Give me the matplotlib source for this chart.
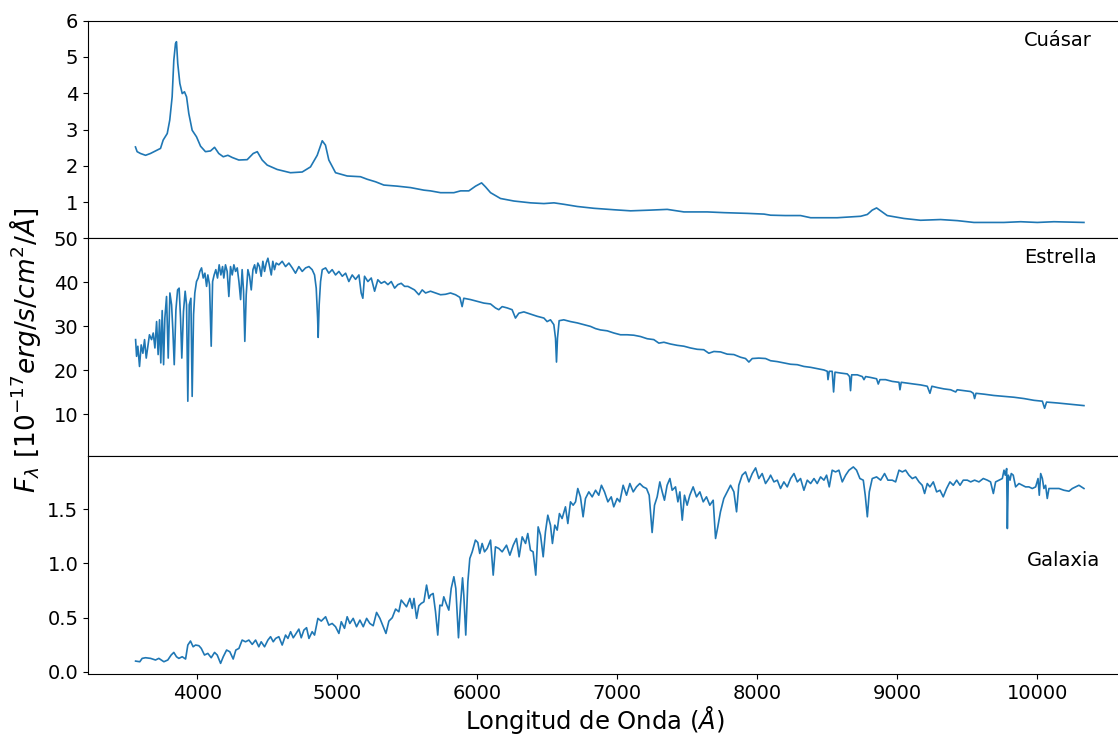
import numpy as np
import matplotlib.pyplot as plt

# Espectros: longitud de onda (A) y flujo (1e-17 erg/s/cm2/A)
wl_quasar = [3559, 3571, 3595, 3631, 3666, 3702, 3738, 3757, 3786, 3804, 3821, 3833,
             3845, 3852, 3861, 3876, 3893, 3909, 3924, 3940, 3964, 3995, 4024, 4059,
             4095, 4124, 4154, 4186, 4219, 4250, 4297, 4357, 4400, 4429, 4464, 4500,
             4571, 4666, 4750, 4809, 4857, 4893, 4916, 4940, 4988, 5071, 5166, 5214,
             5274, 5333, 5429, 5524, 5619, 5666, 5738, 5833, 5881, 5940, 5988, 6031,
             6059, 6095, 6166, 6262, 6381, 6476, 6548, 6619, 6714, 6833, 6976, 7095,
             7238, 7357, 7476, 7643, 7762, 7929, 8048, 8095, 8200, 8309, 8381, 8571,
             8738, 8786, 8821, 8852, 8881, 8928, 9047, 9166, 9309, 9429, 9547, 9761,
             9881, 10000, 10119, 10333]
fl_quasar = [2.52, 2.39, 2.34, 2.29, 2.34, 2.41, 2.48, 2.71, 2.89, 3.26, 3.90, 4.91,
             5.37, 5.42, 4.82, 4.27, 3.99, 4.04, 3.90, 3.44, 2.98, 2.80, 2.54, 2.39,
             2.41, 2.51, 2.34, 2.25, 2.29, 2.23, 2.16, 2.17, 2.34, 2.39, 2.16, 2.02,
             1.90, 1.81, 1.83, 1.97, 2.29, 2.69, 2.57, 2.16, 1.81, 1.72, 1.70, 1.63,
             1.56, 1.47, 1.44, 1.40, 1.33, 1.31, 1.26, 1.26, 1.31, 1.31, 1.44, 1.53,
             1.42, 1.26, 1.10, 1.03, 0.98, 0.96, 0.98, 0.94, 0.88, 0.83, 0.79, 0.76,
             0.78, 0.80, 0.73, 0.73, 0.71, 0.69, 0.67, 0.64, 0.63, 0.63, 0.57, 0.57,
             0.61, 0.66, 0.78, 0.84, 0.76, 0.63, 0.55, 0.50, 0.52, 0.49, 0.44, 0.44,
             0.46, 0.44, 0.46, 0.44]

wl_star = [3560, 3567, 3576, 3588, 3600, 3612, 3624, 3636, 3648, 3659, 3674, 3686,
           3698, 3710, 3721, 3731, 3740, 3750, 3760, 3769, 3781, 3793, 3805, 3817,
           3826, 3836, 3848, 3860, 3871, 3881, 3890, 3902, 3914, 3924, 3933, 3943,
           3955, 3964, 3974, 3983, 3995, 4007, 4019, 4031, 4043, 4055, 4067, 4076,
           4088, 4100, 4110, 4121, 4133, 4145, 4157, 4169, 4181, 4190, 4202, 4214,
           4226, 4238, 4250, 4262, 4274, 4286, 4298, 4310, 4321, 4331, 4340, 4350,
           4362, 4374, 4386, 4398, 4410, 4421, 4433, 4445, 4457, 4469, 4481, 4493,
           4505, 4517, 4529, 4540, 4552, 4564, 4583, 4607, 4631, 4655, 4679, 4702,
           4726, 4750, 4774, 4798, 4821, 4838, 4850, 4860, 4864, 4871, 4881, 4893,
           4917, 4940, 4964, 4988, 5012, 5036, 5060, 5083, 5107, 5131, 5155, 5171,
           5183, 5195, 5219, 5243, 5267, 5290, 5314, 5338, 5362, 5386, 5410, 5433,
           5457, 5481, 5505, 5529, 5552, 5583, 5607, 5631, 5666, 5702, 5738, 5773,
           5809, 5845, 5876, 5892, 5904, 5952, 5999, 6047, 6095, 6130, 6154, 6178,
           6214, 6249, 6273, 6297, 6333, 6380, 6428, 6476, 6499, 6523, 6547, 6559,
           6566, 6573, 6585, 6618, 6666, 6714, 6761, 6809, 6845, 6880, 6928, 6976,
           7023, 7071, 7118, 7166, 7214, 7261, 7297, 7333, 7380, 7428, 7476, 7523,
           7571, 7618, 7654, 7690, 7738, 7785, 7833, 7880, 7916, 7940, 7964, 8011,
           8059, 8095, 8143, 8190, 8238, 8286, 8333, 8381, 8428, 8476, 8500, 8505,
           8514, 8535, 8545, 8555, 8595, 8643, 8659, 8666, 8674, 8714, 8750, 8762,
           8774, 8809, 8852, 8864, 8876, 8916, 8964, 9012, 9019, 9028, 9071, 9119,
           9167, 9214, 9233, 9247, 9286, 9333, 9381, 9417, 9428, 9476, 9524, 9543,
           9552, 9562, 9619, 9690, 9762, 9833, 9905, 9976, 10036, 10052, 10066, 10143,
           10238, 10333]
fl_star = [27.0, 23.2, 25.5, 20.9, 25.8, 23.9, 27.0, 22.8, 25.5, 28.1, 27.0, 28.5,
           25.1, 31.1, 23.6, 31.5, 21.7, 33.6, 21.3, 31.9, 36.8, 22.8, 37.6, 34.9,
           29.2, 21.3, 33.8, 38.3, 38.7, 31.9, 22.8, 33.4, 38.0, 34.9, 13.0, 34.9,
           36.4, 14.1, 32.7, 37.6, 40.2, 41.0, 42.5, 43.3, 41.0, 42.1, 39.1, 41.7,
           39.5, 25.5, 40.2, 41.7, 42.9, 41.0, 44.0, 41.7, 43.6, 41.0, 44.0, 42.5,
           36.8, 43.6, 41.7, 44.0, 42.5, 43.3, 40.2, 36.1, 42.9, 38.0, 26.6, 37.2,
           42.9, 41.4, 38.3, 42.9, 44.0, 42.1, 44.4, 43.6, 41.4, 44.8, 42.5, 44.4,
           45.5, 43.6, 41.7, 44.8, 42.9, 44.4, 44.0, 44.8, 43.6, 44.4, 43.3, 42.1,
           43.6, 42.5, 43.3, 43.6, 42.9, 41.7, 38.7, 31.9, 27.5, 34.9, 40.2, 42.9,
           43.3, 42.1, 42.9, 41.7, 42.5, 41.4, 42.1, 40.2, 41.7, 40.7, 41.7, 37.6,
           36.4, 41.4, 40.2, 41.0, 38.0, 40.6, 39.8, 40.2, 39.5, 40.2, 38.7, 39.5,
           39.8, 39.1, 39.1, 38.7, 38.3, 37.2, 38.3, 37.6, 38.0, 37.6, 37.2, 37.3,
           37.6, 37.2, 36.6, 34.5, 36.4, 36.1, 35.7, 35.3, 35.1, 34.2, 33.8, 34.5,
           34.2, 33.8, 31.9, 33.0, 33.3, 32.8, 32.3, 31.9, 31.1, 31.5, 30.4, 27.3,
           21.9, 27.3, 31.3, 31.5, 31.1, 30.8, 30.4, 30.0, 29.5, 29.2, 29.0, 28.5,
           28.1, 28.1, 28.0, 27.7, 27.2, 27.0, 26.2, 26.4, 26.0, 25.7, 25.5, 25.1,
           24.8, 24.7, 23.9, 24.3, 24.2, 23.7, 23.6, 23.0, 22.7, 21.9, 22.7, 22.8,
           22.7, 22.2, 22.0, 21.7, 21.4, 21.3, 20.9, 20.7, 20.4, 20.1, 19.8, 17.9,
           19.8, 19.8, 15.1, 19.6, 19.4, 19.2, 18.6, 15.4, 19.0, 19.0, 18.6, 17.9,
           18.6, 18.4, 18.1, 16.9, 17.9, 17.9, 17.5, 17.3, 15.6, 17.3, 17.1, 16.9,
           16.7, 16.4, 14.8, 16.4, 16.1, 15.8, 15.6, 15.1, 15.6, 15.4, 15.2, 14.8,
           13.6, 14.8, 14.6, 14.3, 14.1, 13.9, 13.6, 13.2, 13.0, 11.4, 12.8, 12.6,
           12.3, 12.0]

wl_galaxy = [3560, 3590, 3607, 3631, 3667, 3702, 3726, 3762, 3790, 3814, 3833, 3852,
             3869, 3893, 3917, 3933, 3952, 3971, 3988, 4012, 4029, 4052, 4076, 4100,
             4124, 4143, 4167, 4186, 4210, 4233, 4257, 4276, 4298, 4321, 4345, 4369,
             4393, 4417, 4440, 4457, 4481, 4505, 4524, 4543, 4560, 4583, 4607, 4631,
             4648, 4667, 4686, 4702, 4726, 4743, 4762, 4781, 4798, 4821, 4838, 4862,
             4886, 4917, 4940, 4964, 4988, 5012, 5029, 5052, 5071, 5090, 5114, 5138,
             5162, 5186, 5210, 5233, 5257, 5281, 5305, 5324, 5348, 5369, 5393, 5417,
             5440, 5457, 5476, 5495, 5519, 5536, 5548, 5567, 5583, 5600, 5619, 5638,
             5655, 5666, 5685, 5702, 5718, 5733, 5749, 5761, 5778, 5797, 5814, 5833,
             5847, 5866, 5880, 5895, 5904, 5918, 5933, 5947, 5964, 5987, 6004, 6018,
             6035, 6052, 6071, 6095, 6114, 6130, 6154, 6178, 6209, 6233, 6257, 6280,
             6299, 6321, 6345, 6361, 6380, 6399, 6418, 6435, 6452, 6471, 6487, 6504,
             6523, 6537, 6554, 6571, 6587, 6606, 6630, 6647, 6666, 6685, 6702, 6718,
             6737, 6756, 6773, 6797, 6821, 6845, 6868, 6887, 6909, 6933, 6957, 6975,
             6999, 7018, 7042, 7066, 7090, 7114, 7137, 7161, 7185, 7209, 7228, 7237,
             7249, 7266, 7285, 7304, 7321, 7337, 7356, 7376, 7392, 7416, 7433, 7447,
             7464, 7480, 7499, 7518, 7542, 7566, 7590, 7614, 7637, 7661, 7685, 7702,
             7718, 7737, 7761, 7785, 7809, 7833, 7852, 7868, 7892, 7916, 7940, 7964,
             7988, 8011, 8035, 8059, 8083, 8095, 8119, 8143, 8166, 8190, 8214, 8238,
             8262, 8286, 8309, 8333, 8357, 8381, 8405, 8428, 8452, 8476, 8495, 8514,
             8535, 8559, 8583, 8607, 8631, 8655, 8686, 8709, 8733, 8757, 8771, 8786,
             8800, 8821, 8852, 8881, 8909, 8933, 8964, 8988, 9012, 9036, 9059, 9083,
             9107, 9131, 9155, 9178, 9195, 9214, 9233, 9257, 9281, 9305, 9328, 9352,
             9376, 9400, 9424, 9448, 9471, 9500, 9524, 9552, 9583, 9614, 9643, 9666,
             9686, 9702, 9726, 9750, 9762, 9771, 9781, 9786, 9793, 9805, 9814, 9828,
             9845, 9869, 9893, 9916, 9940, 9964, 9988, 10005, 10014, 10024, 10036, 10047,
             10059, 10071, 10083, 10119, 10155, 10190, 10226, 10250, 10274, 10297, 10333]
fl_galaxy = [0.098, 0.092, 0.123, 0.129, 0.123, 0.108, 0.123, 0.092, 0.108, 0.154, 0.178, 0.138,
             0.123, 0.138, 0.117, 0.246, 0.283, 0.230, 0.246, 0.240, 0.215, 0.154, 0.169, 0.129,
             0.178, 0.154, 0.077, 0.138, 0.200, 0.184, 0.117, 0.200, 0.215, 0.292, 0.276, 0.292,
             0.252, 0.292, 0.230, 0.276, 0.230, 0.292, 0.323, 0.276, 0.307, 0.323, 0.246, 0.338,
             0.307, 0.369, 0.313, 0.344, 0.393, 0.313, 0.384, 0.406, 0.307, 0.369, 0.338, 0.492,
             0.467, 0.507, 0.430, 0.445, 0.415, 0.353, 0.461, 0.400, 0.507, 0.445, 0.492, 0.415,
             0.476, 0.415, 0.492, 0.445, 0.424, 0.547, 0.492, 0.430, 0.353, 0.467, 0.498, 0.578,
             0.553, 0.661, 0.630, 0.599, 0.676, 0.584, 0.676, 0.492, 0.608, 0.630, 0.645, 0.799,
             0.676, 0.707, 0.722, 0.553, 0.338, 0.614, 0.608, 0.691, 0.630, 0.568, 0.768, 0.876,
             0.768, 0.313, 0.614, 0.866, 0.707, 0.338, 0.829, 1.045, 1.106, 1.214, 1.192, 1.091,
             1.183, 1.106, 1.137, 1.214, 0.891, 1.152, 1.137, 1.106, 1.167, 1.075, 1.167, 1.229,
             1.060, 1.244, 1.183, 1.275, 1.121, 1.106, 0.891, 1.336, 1.260, 1.060, 1.290, 1.444,
             1.352, 1.183, 1.352, 1.306, 1.459, 1.413, 1.521, 1.367, 1.567, 1.536, 1.567, 1.690,
             1.613, 1.429, 1.598, 1.659, 1.613, 1.674, 1.628, 1.720, 1.659, 1.567, 1.613, 1.521,
             1.598, 1.567, 1.720, 1.628, 1.736, 1.659, 1.705, 1.736, 1.705, 1.690, 1.628, 1.475,
             1.284, 1.536, 1.613, 1.751, 1.659, 1.582, 1.720, 1.782, 1.674, 1.705, 1.567, 1.659,
             1.398, 1.628, 1.536, 1.628, 1.705, 1.613, 1.659, 1.567, 1.613, 1.536, 1.582, 1.229,
             1.336, 1.475, 1.598, 1.659, 1.720, 1.659, 1.475, 1.720, 1.813, 1.843, 1.751, 1.828,
             1.880, 1.782, 1.828, 1.736, 1.782, 1.813, 1.751, 1.767, 1.690, 1.751, 1.705, 1.782,
             1.828, 1.751, 1.782, 1.674, 1.767, 1.736, 1.782, 1.736, 1.797, 1.767, 1.813, 1.705,
             1.859, 1.843, 1.859, 1.751, 1.813, 1.859, 1.889, 1.859, 1.782, 1.767, 1.628, 1.429,
             1.659, 1.782, 1.797, 1.767, 1.828, 1.767, 1.767, 1.751, 1.859, 1.843, 1.859, 1.813,
             1.782, 1.797, 1.751, 1.720, 1.644, 1.736, 1.705, 1.751, 1.659, 1.674, 1.613, 1.690,
             1.751, 1.720, 1.767, 1.720, 1.767, 1.767, 1.751, 1.767, 1.751, 1.782, 1.767, 1.751,
             1.644, 1.751, 1.767, 1.782, 1.859, 1.813, 1.874, 1.321, 1.813, 1.767, 1.828, 1.813,
             1.705, 1.736, 1.720, 1.705, 1.705, 1.690, 1.705, 1.782, 1.628, 1.828, 1.782, 1.690,
             1.720, 1.598, 1.690, 1.690, 1.690, 1.674, 1.665, 1.690, 1.705, 1.720, 1.690]

names = ['Cuásar', 'Estrella', 'Galaxia']

fig, axes = plt.subplots(3, 1, sharex=True, figsize=(11.18, 7.37), dpi=100,
                         gridspec_kw={'hspace': 0})
fig.subplots_adjust(left=0.0787, right=1.012, bottom=0.0855, top=0.972)

spectra = [(wl_quasar, fl_quasar), (wl_star, fl_star), (wl_galaxy, fl_galaxy)]
for ax, (wl, fl) in zip(axes, spectra):
    ax.plot(wl, fl, color='C0', lw=1.2)
    ax.tick_params(labelsize=14)

axes[0].set_ylim(0, 6)
axes[0].set_yticks([1, 2, 3, 4, 5, 6])
axes[1].set_ylim(0.5, 50)
axes[1].set_yticks([10, 20, 30, 40, 50])
axes[2].set_ylim(-0.021, 1.988)
axes[2].set_yticks([0.0, 0.5, 1.0, 1.5])
axes[2].set_xlim(3220, 10672)

for ax in axes[:2]:
    ax.tick_params(axis='x', bottom=False)

# etiquetas de cada espectro
axes[0].text(0.897, 0.91, names[0], transform=axes[0].transAxes, fontsize=14, va='center')
axes[1].text(0.897, 0.914, names[1], transform=axes[1].transAxes, fontsize=14, va='center')
axes[2].text(0.900, 0.523, names[2], transform=axes[2].transAxes, fontsize=14, va='center')

fig.text(0.532, 0.023, r'Longitud de Onda ($\AA$)', fontsize=17.5, ha='center', va='center')
fig.text(0.022, 0.525, r'$F_\lambda\ [10^{-17} erg/s/cm^2/\AA]$', fontsize=19,
         rotation=90, ha='center', va='center')

fig.savefig('out.png', dpi=100)
